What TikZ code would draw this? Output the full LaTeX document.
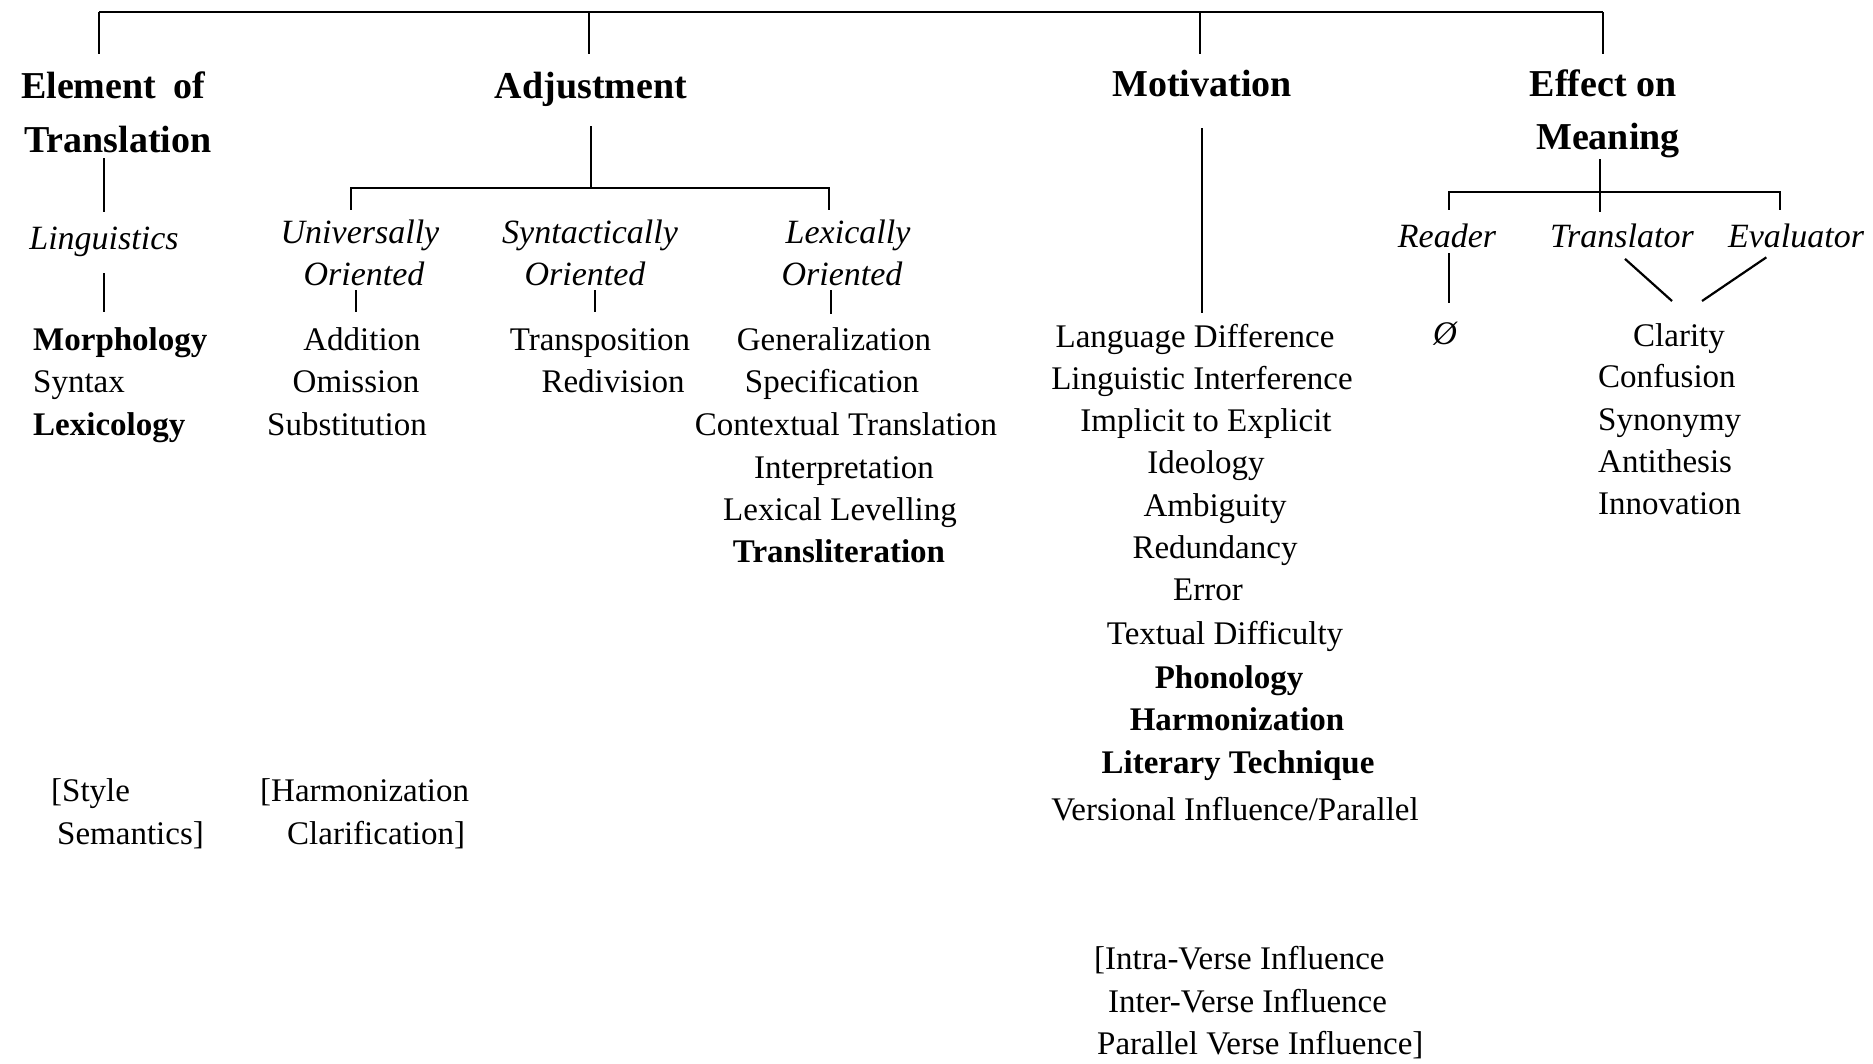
\documentclass[tikz,border=0pt]{standalone}
\usepackage{fontspec}
\setmainfont{Liberation Serif}
\begin{document}
\begin{tikzpicture}[x=1pt,y=-1pt,
  txt/.style={inner sep=0pt, text height=25pt, text depth=8pt, font=\fontsize{33}{40}\selectfont},
  bld/.style={txt, font=\fontsize{33}{40}\selectfont\bfseries},
  ital/.style={inner sep=0pt, text height=25.5pt, text depth=8.5pt, font=\fontsize{34}{40}\selectfont\itshape},
  head/.style={inner sep=0pt, text height=28.5pt, text depth=9.5pt, font=\fontsize{38}{44}\selectfont\bfseries},
  ln/.style={line width=2.2pt},
  bar/.style={line width=2.6pt}]
\useasboundingbox[fill=white] (0,0) rectangle (1873,1063);

% ---------- headings ----------
\node[head, anchor=west] (h1a) at (21,89) {Element\hspace{0.45em}of};
\node[head, anchor=west] (h1b) at (24,143) {Translation};
\node[head] (h2) at (591,89) {Adjustment};
\node[head] (h3) at (1202,87) {Motivation};
\node[head] (h4a) at (1603,87) {Effect on};
\node[head] (h4b) at (1608,140) {Meaning};

% top bar
\coordinate (t1) at (99,12);
\coordinate (t2) at (589,12);
\coordinate (t3) at (1200,12);
\coordinate (t4) at (1603,12);
\coordinate (d1) at (99,54);
\coordinate (d2) at (589,54);
\coordinate (d3) at (1200,54);
\coordinate (d4) at (1603,54);
\draw[bar] (t1) -- (t4);
\draw[ln] (t1) -- (d1);
\draw[ln] (t2) -- (d2);
\draw[ln] (t3) -- (d3);
\draw[ln] (t4) -- (d4);

% ---------- Element of Translation ----------
\node[ital] (ling) at (104,241) {Linguistics};
\draw[ln, shorten <=-4pt, shorten >=12pt] (ling.north |- h1b.south) -- (ling.north);
\node[bld, anchor=west] (morph) at (33,342) {Morphology};
\node[txt, anchor=west] (syn) at (33,384) {Syntax};
\node[bld, anchor=west] (lex) at (33,427) {Lexicology};
\draw[ln, shorten <=15pt, shorten >=13.5pt] (ling.south) -- (ling.south |- morph.north);

% ---------- Adjustment ----------
\coordinate (ab) at (591,188);
\coordinate (abL) at (351,188);
\coordinate (abR) at (829,188);
\draw[ln, shorten <=18pt] (h2.south) -- (ab);
\node[ital] (u1) at (360,235) {Universally};
\node[ital] (u2) at (364,277) {Oriented};
\node[ital] (s1) at (590,235) {Syntactically};
\node[ital] (s2) at (585,277) {Oriented};
\node[ital] (l1) at (848,235) {Lexically};
\node[ital] (l2) at (842,277) {Oriented};
\draw[bar, shorten <=8pt, shorten >=8pt] (abL |- u1.north) -- (abL) -- (abR) -- (abR |- l1.north);

\node[txt] (add) at (362,342) {Addition};
\node[txt] (omi) at (356,384) {Omission};
\node[txt] (sub) at (347,427) {Substitution};
\node[txt] (tra) at (600,342) {Transposition};
\node[txt] (red) at (613,384) {Redivision};
\node[txt] (gen) at (834,342) {Generalization};
\node[txt] (spe) at (832,384) {Specification};
\node[txt] (con) at (846,427) {Contextual Translation};
\node[txt] (int) at (844,470) {Interpretation};
\node[txt] (lev) at (840,512) {Lexical Levelling};
\node[bld] (tli) at (839,554) {Transliteration};

\draw[ln, shorten <=-4pt, shorten >=13.5pt] ([xshift=-8pt]u2.south) -- ([xshift=-8pt]u2.south |- add.north);
\draw[ln, shorten <=-4pt, shorten >=13.5pt] ([xshift=10pt]s2.south) -- ([xshift=10pt]s2.south |- tra.north);
\draw[ln, shorten <=-4pt, shorten >=11pt] ([xshift=-11pt]l2.south) -- ([xshift=-11pt]l2.south |- gen.north);

% ---------- Motivation ----------
\node[txt] (m1) at (1195,339) {Language Difference};
\node[txt] (m2) at (1202,381) {Linguistic Interference};
\node[txt] (m3) at (1206,423) {Implicit to Explicit};
\node[txt] (m4) at (1206,465) {Ideology};
\node[txt] (m5) at (1215,508) {Ambiguity};
\node[txt] (m6) at (1215,550) {Redundancy};
\node[txt] (m7) at (1208,592) {Error};
\node[txt] (m8) at (1225,636) {Textual Difficulty};
\node[bld] (m9) at (1229,680) {Phonology};
\node[bld] (m10) at (1237,722) {Harmonization};
\node[bld] (m11) at (1238,765) {Literary Technique};
\node[txt] (m12) at (1235,812) {Versional Influence/Parallel};
\draw[ln, shorten <=22pt, shorten >=9.5pt] (h3.south) -- (h3.south |- m1.north);

% ---------- Effect on Meaning ----------
\coordinate (eb) at (1600,192);
\coordinate (ebL) at (1449,192);
\coordinate (ebR) at (1780,192);
\node[ital] (rd) at (1447,239) {Reader};
\node[ital] (tr) at (1622,239) {Translator};
\node[ital] (ev) at (1796,239) {Evaluator};
\draw[ln, shorten >=10pt] (eb |- h4b.south) -- (eb |- tr.north);
\draw[bar, shorten <=12pt, shorten >=12pt] (ebL |- rd.north) -- (ebL) -- (ebR) -- (ebR |- ev.north);

\node[txt] (nul) at (1445,336) {\itshape Ø};
\draw[ln, shorten <=-3pt, shorten >=16.5pt] (ebL |- rd.south) -- (ebL |- nul.north);

\node[txt] (e1) at (1679,338) {Clarity};
\node[txt, anchor=west] (e2) at (1598,379) {Confusion};
\node[txt, anchor=west] (e3) at (1598,422) {Synonymy};
\node[txt, anchor=west] (e4) at (1598,464) {Antithesis};
\node[txt, anchor=west] (e5) at (1598,506) {Innovation};
\coordinate (c1) at (1672,301);
\coordinate (c2) at (1702,301);
\draw[ln, shorten <=4pt] (tr.south) -- (c1);
\draw[ln, shorten <=2pt] ([xshift=-28pt]ev.south) -- (c2);

% ---------- bracketed notes ----------
\node[txt, anchor=west] (n1) at (51,793) {[Style};
\node[txt, anchor=west] (n2) at (57,836) {Semantics]};
\node[txt, anchor=west] (n3) at (260,793) {[Harmonization};
\node[txt, anchor=west] (n4) at (287,836) {Clarification]};
\node[txt, anchor=west] (n5) at (1094,961) {[Intra-Verse Influence};
\node[txt, anchor=west] (n6) at (1108,1004) {Inter-Verse Influence};
\node[txt, anchor=west] (n7) at (1097,1046) {Parallel Verse Influence]};
\end{tikzpicture}
\end{document}
